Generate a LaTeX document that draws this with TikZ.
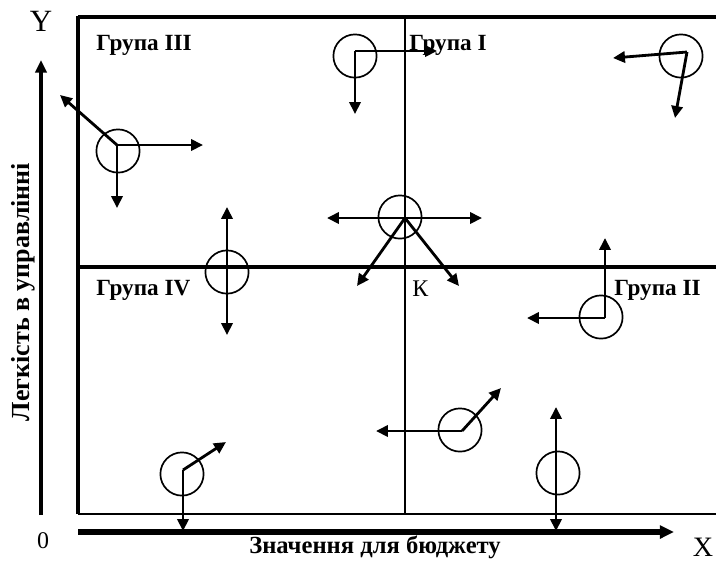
\documentclass[tikz,border=0pt]{standalone}
\usepackage{fontspec}
\setmainfont{Liberation Serif}
\usetikzlibrary{arrows.meta}

\begin{document}
\begin{tikzpicture}[x=0.025cm,y=-0.025cm,line join=round,
  arr/.style={-{Triangle[length=8.5pt,width=8pt]},line width=2pt},
  darr/.style={{Triangle[length=8.5pt,width=8pt]}-{Triangle[length=8.5pt,width=8pt]},line width=2pt},
  obj/.style={circle,draw,line width=1.2pt,minimum size=1.08cm,inner sep=0pt},
  grp/.style={anchor=base west,font=\fontsize{16.5}{18}\bfseries\selectfont,inner sep=0pt},
  axlbl/.style={font=\fontsize{17.5}{19}\bfseries\selectfont,inner sep=0pt}]

  \useasboundingbox (0,0) rectangle (716,562);

  %% ---------------------------------------------------------------
  %% frame and quadrants
  %% ---------------------------------------------------------------
  \draw[line width=2.6pt] (78,17) -- (716,17);
  \draw[line width=2.2pt] (78,16) -- (78,514);
  \draw[line width=1.3pt] (78,514) -- (716,514);
  \draw[line width=2.6pt] (78,267) -- (716,267);
  \draw[line width=1.8pt] (405,17) -- (405,514);

  % axes
  \draw[line width=3.6pt,-{Triangle[length=10pt,width=9pt]}] (78,532) -- (674,532);
  \draw[line width=2.2pt,-{Triangle[length=9pt,width=8pt]}] (41,515) -- (41,60);
  \node[font=\fontsize{22}{24}\selectfont] (ylab) at (41,21) {Y};
  \node[font=\fontsize{20}{22}\selectfont] (xlab) at (703,547) {X};
  \node[font=\fontsize{17}{19}\selectfont] (zero) at (43,541) {0};
  \node[axlbl] (xname) at (375,547) {Значення для бюджету};
  \node[axlbl,rotate=90,font=\fontsize{18.5}{20}\bfseries\selectfont] (yname) at (23,292) {Легкість в управлінні};

  % group labels
  \node[grp] (g3) at (96,50) {Група III};
  \node[grp] (g1) at (409,50) {Група I};
  \node[grp] (g4) at (96,295) {Група IV};
  \node[grp] (g2) at (614,295) {Група II};
  \node[anchor=base west,inner sep=0pt,font=\fontsize{17}{19}\selectfont] (k) at (412,296) {К};

  %% ---------------------------------------------------------------
  %% objects and their directions
  %% ---------------------------------------------------------------
  % Group III
  \node[obj] (c3) at (118,151) {};
  \coordinate (o3) at (117,145);
  \draw[arr] (o3) -- (203,145);
  \draw[arr] (o3) -- (117,208);
  \draw[arr] (o3) -- (60,95);

  % top, on the border III / I
  \node[obj] (ct) at (355,56) {};
  \coordinate (ot) at (355,51);
  \draw[arr] (ot) -- (437,51);
  \draw[arr] (ot) -- (355,114);

  % Group I
  \node[obj] (c1) at (681,56) {};
  \coordinate (o1) at (687,52);
  \draw[arr] (o1) -- (613,58);
  \draw[arr] (o1) -- (675,118);

  % point K
  \node[obj] (ck) at (400,217) {};
  \coordinate (ok) at (405,218);
  \draw[darr] (327,218) -- (482,218);
  \draw[arr] (ok) -- (357,286);
  \draw[arr] (ok) -- (459,286);

  % border III / IV
  \node[obj] (c4) at (227,272) {};
  \draw[darr] (227,207) -- (227,335);

  % Group II
  \node[obj] (c2) at (601,317) {};
  \coordinate (o2) at (605,318);
  \draw[arr] (o2) -- (527,318);
  \draw[arr] (o2) -- (605,238);

  % lower middle
  \node[obj] (c5) at (460,430) {};
  \coordinate (o5) at (462,431);
  \draw[arr] (o5) -- (376,431);
  \draw[arr] (o5) -- (501,388);

  % lower right
  \node[obj] (c6) at (558,473) {};
  \draw[darr] (556,407) -- (556,531);

  % lower left
  \node[obj] (c7) at (182,474) {};
  \coordinate (o7) at (183,470);
  \draw[arr] (o7) -- (183,531);
  \draw[arr] (o7) -- (226,442);

\end{tikzpicture}
\end{document}
